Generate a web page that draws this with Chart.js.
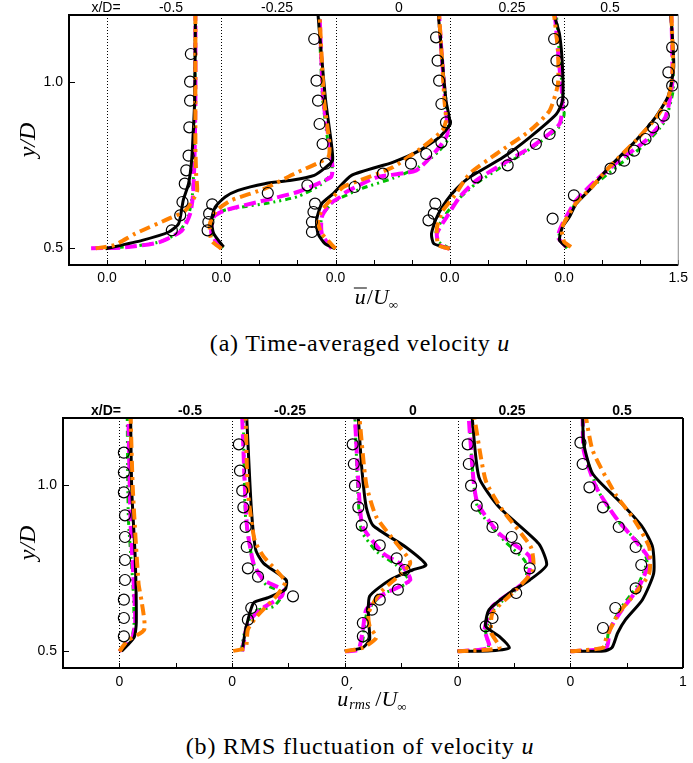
<!DOCTYPE html>
<html>
<head>
<meta charset="utf-8">
<script src="https://cdn.jsdelivr.net/npm/chart.js@4.4.0/dist/chart.umd.min.js"></script>
<style>
  body { margin: 0; background: #fff; }
  #page { position: relative; width: 693px; height: 763px; font-family: "Liberation Sans", Arial, sans-serif; }
  canvas { position: absolute; left: 0; }
  .lbl { position: absolute; transform: translate(-50%, -50%); font-size: 14px; white-space: nowrap; }
  .bold { font-weight: bold; }
  .ytitle { position: absolute; transform: translate(-50%, -50%) rotate(-90deg); font-family: "Liberation Serif", serif; font-style: italic; font-size: 24px; }
  .xtitle { position: absolute; transform: translate(-50%, -50%); font-family: "Liberation Serif", serif; font-size: 22px; white-space: nowrap; }
  .xtitle i { font-style: italic; }
  .xtitle sub { font-size: 13px; vertical-align: -5px; }
  .bar { display: inline-block; border-top: 1.6px solid #000; line-height: 16px; padding: 0 1px; }
  .ss { display: inline-block; position: relative; width: 27px; height: 16px; vertical-align: -4px; }
  .ss .p { position: absolute; left: 1px; top: -10px; font-family: "DejaVu Serif", serif; font-size: 16px; font-style: normal; }
  .ss .r { position: absolute; left: 1px; top: 3px; font-size: 14px; font-style: italic; }
  .caption { position: absolute; transform: translate(-50%, -50%); font-family: "Liberation Serif", serif; font-size: 24px; letter-spacing: 0.8px; white-space: nowrap; }
</style>
</head>
<body>
<div id="page">
  <canvas id="meanChart" width="693" height="290" style="top:0"></canvas>
  <canvas id="rmsChart" width="693" height="295" style="top:395px"></canvas>

  <div class="lbl" style="left:106px;top:7px">x/D=</div>
  <div class="lbl" style="left:171px;top:7px">-0.5</div>
  <div class="lbl" style="left:277px;top:7px">-0.25</div>
  <div class="lbl" style="left:399px;top:7px">0</div>
  <div class="lbl" style="left:512px;top:7px">0.25</div>
  <div class="lbl" style="left:610px;top:7px">0.5</div>

  <div class="lbl bold" style="left:106px;top:410px">x/D=</div>
  <div class="lbl bold" style="left:190px;top:410px">-0.5</div>
  <div class="lbl bold" style="left:290px;top:410px">-0.25</div>
  <div class="lbl bold" style="left:413px;top:410px">0</div>
  <div class="lbl bold" style="left:512px;top:410px">0.25</div>
  <div class="lbl bold" style="left:622px;top:410px">0.5</div>

  <div class="ytitle" style="left:27px;top:140px">y/D</div>
  <div class="ytitle" style="left:27px;top:543px">y/D</div>

  <div class="xtitle" style="left:376px;top:298px"><span class="bar"><i>u</i></span>/<i>U</i><sub>∞</sub></div>
  <div class="xtitle" style="left:372px;top:700px"><i>u</i><span class="ss"><span class="p">′</span><span class="r">rms</span></span>/<i>U</i><sub>∞</sub></div>

  <div class="caption" style="left:360px;top:343px">(a) Time-averaged velocity <i>u</i></div>
  <div class="caption" style="left:360px;top:746px">(b) RMS fluctuation of velocity <i>u</i></div>
</div>

<script>
// stations along the wall, one profile each
const stations = ["-0.5", "-0.25", "0", "0.25", "0.5"];

// axis ticks
const yTicks = [0.5, 1.0];
const meanTickLabels = ["0.0", "0.0", "0.0", "0.0", "0.0", "1.5"];
const rmsTickLabels = ["0", "0", "0", "0", "0", "1"];

// ---- (a) mean velocity, [u/Uinf, y/D] per station ----
const meanExp = [
  [[0.85,0.554],[0.96,0.599],[0.99,0.639],[1.02,0.694],[1.04,0.734],[1.07,0.778],[1.08,0.863],[1.09,0.943],[1.09,1.0],[1.10,1.083]],
  [[-0.18,0.554],[-0.17,0.579],[-0.16,0.604],[-0.12,0.632],[0.61,0.666],[1.13,0.689],[1.37,0.754],[1.33,0.813],[1.29,0.873],[1.27,0.943],[1.25,1.003],[1.22,1.128]],
  [[-0.31,0.549],[-0.31,0.579],[-0.29,0.609],[-0.27,0.634],[0.25,0.684],[0.62,0.724],[0.99,0.754],[1.19,0.783],[1.39,0.818],[1.45,0.878],[1.39,0.933],[1.36,1.003],[1.34,1.063],[1.32,1.133]],
  [[-0.28,0.584],[-0.21,0.604],[-0.19,0.634],[0.35,0.713],[0.76,0.749],[0.83,0.783],[1.13,0.813],[1.31,0.843],[1.48,0.938],[1.42,1.003],[1.40,1.063],[1.37,1.128]],
  [[-0.15,0.589],[0.13,0.659],[0.61,0.739],[0.79,0.763],[0.92,0.793],[1.07,0.828],[1.17,0.863],[1.31,0.898],[1.42,0.988],[1.37,1.028],[1.42,1.103]]
];
const meanBlack = [
  [[-0.02,0.499],[0.46,0.524],[0.81,0.549],[0.94,0.574],[1.00,0.644],[1.07,0.694],[1.11,0.763],[1.13,0.843],[1.15,0.943],[1.16,1.2]],
  [[0.03,0.504],[-0.10,0.544],[-0.13,0.584],[-0.08,0.624],[0.05,0.654],[0.22,0.674],[0.57,0.694],[0.92,0.704],[1.22,0.719],[1.35,0.739],[1.46,0.763],[1.44,0.823],[1.37,0.943],[1.31,1.093],[1.27,1.2]],
  [[0.0,0.499],[-0.14,0.514],[-0.23,0.544],[-0.25,0.584],[-0.18,0.634],[-0.03,0.664],[0.21,0.719],[0.75,0.758],[1.10,0.793],[1.36,0.833],[1.50,0.873],[1.45,0.943],[1.39,1.093],[1.35,1.2]],
  [[0.0,0.499],[-0.21,0.514],[-0.24,0.544],[-0.17,0.594],[-0.04,0.644],[0.09,0.679],[0.26,0.713],[0.70,0.773],[1.05,0.833],[1.40,0.903],[1.48,0.943],[1.48,1.043],[1.44,1.143],[1.37,1.2]],
  [[0.03,0.504],[-0.06,0.524],[-0.02,0.564],[0.07,0.594],[0.16,0.634],[0.33,0.674],[0.59,0.743],[0.94,0.823],[1.20,0.893],[1.37,0.958],[1.44,1.043],[1.42,1.143],[1.40,1.2]]
];
const meanOrange = [
  [[-0.15,0.50],[0.10,0.51],[0.37,0.544],[0.81,0.589],[1.03,0.614],[1.18,0.669],[1.17,0.72],[1.16,0.8],[1.16,1.2]],
  [[0.0,0.499],[-0.13,0.524],[-0.15,0.574],[-0.06,0.614],[0.13,0.644],[0.57,0.679],[0.96,0.724],[1.40,0.773],[1.42,0.813],[1.35,0.943],[1.29,1.2]],
  [[0.0,0.499],[-0.18,0.544],[-0.23,0.579],[-0.18,0.614],[-0.07,0.644],[0.10,0.684],[0.32,0.704],[0.75,0.743],[1.14,0.803],[1.40,0.853],[1.45,0.883],[1.43,0.943],[1.39,1.093],[1.36,1.2]],
  [[0.0,0.499],[-0.15,0.51],[-0.17,0.56],[-0.10,0.61],[0.05,0.654],[0.26,0.724],[0.61,0.783],[1.05,0.853],[1.31,0.913],[1.42,0.993],[1.42,1.093],[1.37,1.2]],
  [[0.09,0.504],[0.0,0.52],[-0.03,0.56],[0.06,0.60],[0.17,0.64],[0.35,0.68],[0.60,0.745],[0.95,0.825],[1.22,0.895],[1.38,0.96],[1.43,1.05],[1.41,1.2]]
];
const meanMagenta = [
  [[-0.21,0.50],[0.24,0.503],[0.68,0.518],[0.98,0.553],[1.09,0.603],[1.13,0.663],[1.15,0.793],[1.16,0.943],[1.16,1.2]],
  [[0.0,0.499],[-0.13,0.544],[-0.10,0.594],[0.05,0.614],[0.57,0.644],[1.00,0.669],[1.44,0.714],[1.46,0.743],[1.42,0.813],[1.34,0.943],[1.29,1.2]],
  [[-0.05,0.499],[-0.18,0.544],[-0.18,0.594],[-0.07,0.634],[0.06,0.654],[0.14,0.669],[0.54,0.713],[1.06,0.734],[1.36,0.803],[1.47,0.843],[1.45,0.913],[1.39,1.093],[1.36,1.2]],
  [[0.0,0.499],[-0.13,0.509],[-0.17,0.544],[-0.04,0.594],[0.13,0.654],[0.35,0.704],[0.70,0.754],[1.13,0.813],[1.44,0.873],[1.48,0.943],[1.44,1.043],[1.38,1.2]],
  [[0.03,0.504],[-0.08,0.534],[-0.02,0.574],[0.16,0.644],[0.42,0.704],[0.72,0.763],[1.07,0.823],[1.33,0.893],[1.42,0.993],[1.42,1.1],[1.41,1.2]]
];
const meanGreen = [
  [[-0.15,0.50],[0.30,0.505],[0.70,0.52],[0.95,0.55],[1.07,0.60],[1.12,0.66],[1.14,0.75],[1.15,0.9],[1.16,1.2]],
  [[0.02,0.50],[-0.10,0.53],[-0.13,0.57],[-0.08,0.60],[0.05,0.615],[0.30,0.625],[0.60,0.635],[1.00,0.655],[1.30,0.69],[1.45,0.725],[1.45,0.76],[1.40,0.82],[1.33,0.95],[1.28,1.2]],
  [[-0.02,0.50],[-0.15,0.52],[-0.20,0.56],[-0.17,0.60],[-0.05,0.635],[0.10,0.655],[0.35,0.68],[0.75,0.71],[1.10,0.745],[1.35,0.79],[1.48,0.83],[1.47,0.9],[1.40,1.05],[1.36,1.2]],
  [[0.0,0.50],[-0.15,0.52],[-0.18,0.55],[-0.06,0.60],[0.10,0.645],[0.35,0.695],[0.72,0.75],[1.10,0.805],[1.42,0.86],[1.50,0.9],[1.48,0.97],[1.45,1.05],[1.40,1.2]],
  [[0.04,0.50],[-0.07,0.53],[-0.02,0.57],[0.14,0.63],[0.40,0.69],[0.72,0.75],[1.05,0.81],[1.32,0.88],[1.43,0.97],[1.43,1.05],[1.41,1.2]]
];

// ---- (b) rms velocity, [u'rms/Uinf, y/D] per station ----
const rmsExp = [
  [[0.04,0.545],[0.04,0.600],[0.04,0.655],[0.05,0.714],[0.05,0.774],[0.05,0.843],[0.05,0.908],[0.04,0.977],[0.04,1.037],[0.04,1.096]],
  [[0.14,0.595],[0.17,0.63],[0.54,0.665],[0.23,0.724],[0.14,0.749],[0.13,0.813],[0.12,0.873],[0.10,0.932],[0.09,0.982],[0.07,1.042],[0.06,1.121]],
  [[0.16,0.545],[0.16,0.585],[0.24,0.625],[0.31,0.655],[0.47,0.685],[0.53,0.744],[0.46,0.779],[0.31,0.818],[0.15,0.878],[0.12,0.932],[0.09,0.997],[0.08,1.062],[0.07,1.121]],
  [[0.25,0.575],[0.31,0.600],[0.52,0.675],[0.64,0.749],[0.52,0.809],[0.48,0.843],[0.31,0.873],[0.17,0.937],[0.12,0.997],[0.10,1.062],[0.09,1.121]],
  [[0.29,0.570],[0.40,0.630],[0.58,0.689],[0.63,0.759],[0.58,0.813],[0.43,0.873],[0.29,0.932],[0.17,0.992],[0.11,1.062],[0.09,1.126]]
];
const rmsBlack = [
  [[0.02,0.50],[0.13,0.541],[0.15,0.585],[0.14,0.784],[0.11,0.982],[0.10,1.2]],
  [[0.09,0.501],[0.12,0.565],[0.19,0.645],[0.31,0.66],[0.47,0.685],[0.48,0.714],[0.28,0.764],[0.21,0.804],[0.17,0.932],[0.13,1.2]],
  [[0.0,0.50],[0.16,0.511],[0.22,0.536],[0.21,0.595],[0.22,0.665],[0.40,0.714],[0.60,0.744],[0.72,0.759],[0.54,0.813],[0.25,0.878],[0.19,0.932],[0.15,1.051],[0.12,1.2]],
  [[0.0,0.50],[0.30,0.502],[0.46,0.511],[0.37,0.545],[0.25,0.575],[0.28,0.625],[0.46,0.675],[0.64,0.714],[0.79,0.759],[0.72,0.823],[0.37,0.932],[0.19,1.022],[0.13,1.2]],
  [[0.0,0.50],[0.30,0.501],[0.37,0.511],[0.42,0.555],[0.49,0.595],[0.64,0.655],[0.74,0.734],[0.73,0.813],[0.64,0.873],[0.46,0.942],[0.20,1.032],[0.12,1.121],[0.11,1.2]]
];
const rmsOrange = [
  [[0.0,0.50],[0.07,0.531],[0.22,0.565],[0.20,0.645],[0.17,0.704],[0.12,0.982],[0.10,1.2]],
  [[0.01,0.501],[0.12,0.511],[0.14,0.565],[0.22,0.605],[0.39,0.665],[0.47,0.709],[0.28,0.784],[0.20,0.833],[0.14,0.982],[0.12,1.2]],
  [[0.0,0.50],[0.16,0.511],[0.28,0.541],[0.22,0.575],[0.21,0.615],[0.31,0.675],[0.58,0.764],[0.46,0.823],[0.28,0.903],[0.19,1.002],[0.13,1.2]],
  [[0.0,0.50],[0.37,0.511],[0.30,0.555],[0.31,0.615],[0.52,0.685],[0.67,0.744],[0.65,0.813],[0.40,0.923],[0.25,1.012],[0.15,1.2]],
  [[0.0,0.50],[0.29,0.511],[0.32,0.541],[0.43,0.615],[0.58,0.675],[0.70,0.734],[0.70,0.813],[0.55,0.903],[0.40,0.972],[0.20,1.101],[0.14,1.2]]
];
const rmsMagenta = [
  [[0.0,0.50],[0.11,0.536],[0.14,0.585],[0.13,0.685],[0.10,0.883],[0.08,1.2]],
  [[0.09,0.50],[0.14,0.585],[0.25,0.625],[0.44,0.665],[0.45,0.685],[0.28,0.714],[0.19,0.764],[0.13,0.883],[0.09,1.2]],
  [[0.0,0.50],[0.12,0.505],[0.16,0.565],[0.19,0.625],[0.31,0.665],[0.58,0.714],[0.50,0.76],[0.34,0.794],[0.16,0.873],[0.13,0.952],[0.09,1.2]],
  [[0.0,0.50],[0.28,0.511],[0.24,0.565],[0.31,0.635],[0.61,0.714],[0.64,0.784],[0.37,0.853],[0.17,0.952],[0.11,1.151],[0.10,1.2]],
  [[0.0,0.50],[0.32,0.511],[0.35,0.565],[0.46,0.625],[0.61,0.694],[0.70,0.774],[0.60,0.823],[0.40,0.903],[0.23,0.992],[0.12,1.101],[0.11,1.2]]
];
const rmsGreen = [
  [[0.0,0.50],[0.10,0.53],[0.13,0.58],[0.12,0.70],[0.08,0.90],[0.07,1.2]],
  [[0.08,0.50],[0.12,0.57],[0.20,0.62],[0.37,0.635],[0.45,0.675],[0.30,0.70],[0.19,0.764],[0.12,0.90],[0.10,1.2]],
  [[0.0,0.50],[0.14,0.51],[0.17,0.56],[0.20,0.62],[0.33,0.67],[0.57,0.71],[0.45,0.76],[0.28,0.80],[0.15,0.86],[0.12,0.95],[0.09,1.2]],
  [[0.0,0.50],[0.27,0.51],[0.25,0.56],[0.33,0.63],[0.60,0.71],[0.60,0.77],[0.42,0.83],[0.18,0.93],[0.12,1.10],[0.11,1.2]],
  [[0.0,0.50],[0.31,0.51],[0.34,0.56],[0.45,0.63],[0.60,0.70],[0.68,0.77],[0.62,0.82],[0.45,0.88],[0.25,0.98],[0.13,1.10],[0.11,1.2]]
];

// line styles (lower order = drawn on top)
const expStyle = { showLine: false, pointRadius: 5.5, pointBorderColor: "#000", pointBackgroundColor: "rgba(0,0,0,0)", pointBorderWidth: 1.2, order: 0 };
const orangeStyle = { showLine: true, borderColor: "#ff8000", borderWidth: 4, borderDash: [11, 5, 3, 5], pointRadius: 0, order: 1 };
const blackStyle = { showLine: true, borderColor: "#000", borderWidth: 3, pointRadius: 0, order: 2 };
const magentaStyle = { showLine: true, borderColor: "#ff00ff", borderWidth: 4, borderDash: [12, 5], pointRadius: 0, order: 3 };
const greenStyle = { showLine: true, borderColor: "#00c000", borderWidth: 3, borderDash: [6, 4, 2, 4, 2, 4], pointRadius: 0, order: 4 };

// frame, dotted zero lines and inward ticks
const framePlugin = {
  id: "frame",
  beforeDatasetsDraw(chart, args, opts) {
    const { ctx, chartArea: a, scales: { x } } = chart;
    ctx.save();
    ctx.strokeStyle = "#000";
    ctx.lineWidth = 1;
    ctx.setLineDash([1, 2]);
    stations.forEach((s, i) => {
      const px = Math.round(x.getPixelForValue(i * opts.step)) + 0.5;
      ctx.beginPath();
      ctx.moveTo(px, a.top);
      ctx.lineTo(px, a.bottom);
      ctx.stroke();
    });
    ctx.restore();
  },
  afterDraw(chart, args, opts) {
    const { ctx, chartArea: a, scales: { x, y } } = chart;
    ctx.save();
    ctx.strokeStyle = "#000";
    ctx.lineWidth = 1;
    x.ticks.forEach((t) => {
      const px = Math.round(x.getPixelForValue(t.value)) + 0.5;
      ctx.beginPath();
      ctx.moveTo(px, a.bottom);
      ctx.lineTo(px, a.bottom - 5);
      ctx.stroke();
    });
    y.ticks.forEach((t) => {
      const py = Math.round(y.getPixelForValue(t.value)) + 0.5;
      ctx.beginPath();
      ctx.moveTo(a.left, py);
      ctx.lineTo(a.left + 6, py);
      ctx.stroke();
    });
    ctx.lineWidth = 2;
    ctx.beginPath();
    ctx.moveTo(a.right, a.top);
    ctx.lineTo(a.left, a.top);
    ctx.lineTo(a.left, a.bottom);
    ctx.lineTo(a.right, a.bottom);
    ctx.stroke();
    ctx.strokeStyle = opts.rightColor;
    ctx.lineWidth = opts.rightWidth;
    ctx.beginPath();
    ctx.moveTo(a.right, a.top);
    ctx.lineTo(a.right, a.bottom);
    ctx.stroke();
    ctx.restore();
  }
};

function drawPanel(id, step, tickLabels, series, layout) {
  const datasets = [];
  series.forEach(([profiles, style]) => {
    profiles.forEach((profile, i) => {
      datasets.push({
        ...style,
        tension: 0.2,
        fill: false,
        data: profile.map(([u, yv]) => ({ x: i * step + u, y: yv }))
      });
    });
  });

  const xMax = step * stations.length;
  return new Chart(document.getElementById(id), {
    type: "scatter",
    data: { datasets },
    options: {
      responsive: false,
      animation: false,
      layout: { padding: layout.padding },
      plugins: {
        legend: { display: false },
        tooltip: { enabled: false },
        frame: { step, rightColor: layout.rightColor, rightWidth: layout.rightWidth }
      },
      scales: {
        x: {
          type: "linear",
          min: -0.5,
          max: xMax,
          grid: { display: false, drawTicks: false },
          border: { display: false },
          afterFit: (s) => { s.height = layout.xHeight; },
          ticks: {
            stepSize: 0.5,
            autoSkip: false,
            maxRotation: 0,
            padding: layout.tickPad,
            color: "#000",
            font: { family: "'Liberation Sans', Arial, sans-serif", size: 14 },
            callback: (v) => {
              const k = v / step;
              if (v < 0 || Math.abs(k - Math.round(k)) > 1e-6) return "";
              return tickLabels[Math.round(k)];
            }
          }
        },
        y: {
          type: "linear",
          min: 0.45,
          max: 1.2,
          grid: { display: false, drawTicks: false },
          border: { display: false },
          afterBuildTicks: (s) => { s.ticks = yTicks.map((v) => ({ value: v })); },
          afterFit: (s) => { s.width = layout.yWidth; },
          ticks: {
            padding: 6,
            color: "#000",
            font: { family: "'Liberation Sans', Arial, sans-serif", size: 14 },
            callback: (v) => v.toFixed(1)
          }
        }
      }
    },
    plugins: [framePlugin]
  });
}

drawPanel("meanChart", 1.5, meanTickLabels,
  [[meanExp, expStyle], [meanOrange, orangeStyle], [meanBlack, blackStyle], [meanMagenta, magentaStyle], [meanGreen, greenStyle]],
  { padding: { left: 0, right: 10, top: 15, bottom: 0 }, yWidth: 69, xHeight: 25, tickPad: 5, rightColor: "#888", rightWidth: 1 });

drawPanel("rmsChart", 1, rmsTickLabels,
  [[rmsExp, expStyle], [rmsOrange, orangeStyle], [rmsBlack, blackStyle], [rmsMagenta, magentaStyle], [rmsGreen, greenStyle]],
  { padding: { left: 0, right: 10, top: 23, bottom: 0 }, yWidth: 63, xHeight: 22, tickPad: 6, rightColor: "#000", rightWidth: 2 });
</script>
</body>
</html>
